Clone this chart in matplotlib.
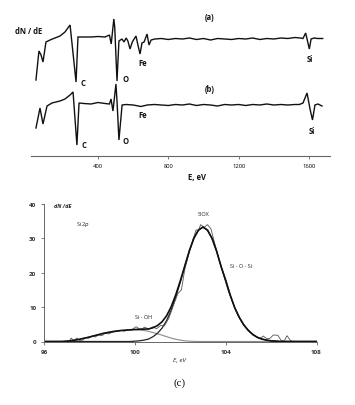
import matplotlib
matplotlib.use('Agg')
import matplotlib.pyplot as plt

# ---- survey spectra (a) and (b): energy, eV / relative dN/dE ----
e_a = [47, 64, 76, 87, 104, 127, 155, 184, 212, 241, 275, 286, 320, 360, 400, 440,
       465, 475, 490, 495, 508, 519, 536, 548, 560, 570, 582, 595, 616, 627, 639, 650,
       662, 679, 690, 702, 724, 760, 800, 840, 880, 920, 960, 1000, 1040, 1080, 1120,
       1160, 1200, 1240, 1280, 1320, 1360, 1400, 1440, 1480, 1520, 1550, 1566, 1581,
       1589, 1602, 1612, 1629, 1650, 1678]
i_a = [-41, -12, -16, -23, -3, -1, 1, 3, 7, 14, -43, 2, 2, 2, 2.5, 2,
       4, -5, 20, 12, -42, -2, 0, -3, 1, -2, -10, -3, 3, -6, -15, -4,
       -3, 5, -6, -1, 0, 0.5, -0.5, 0.5, 0, 1, -0.5, 0.5, -1, 0.5, 0,
       -0.5, 0.5, 0, 1, -0.5, 0.5, 0, 1, 0.5, 1.5, 1, 0.5, 6,
       0, -10, 0, 1, 0.5, 0.5]

e_b = [47, 70, 87, 110, 138, 184, 212, 241, 258, 280, 292, 320, 360, 400, 440, 465,
       474, 485, 502, 508, 519, 537, 560, 600, 644, 680, 720, 760, 800, 840, 880, 920,
       960, 1000, 1040, 1080, 1120, 1160, 1200, 1240, 1280, 1320, 1360, 1400, 1440,
       1480, 1520, 1545, 1566, 1589, 1606, 1620, 1634, 1651, 1674]
i_b = [-23, -3, -19, -1, 2, 4, 6, 10, 13, -40, 2, 1.5, 1, 2.5, 1.5, 1,
       6, -6, 21, 4, -35, 0, 0.5, 0, -1.5, 0, 0.5, 0, -0.5, 0.5, 0, 1,
       -0.5, 0.5, 0, -1, 0.5, 0, 0.5, -0.5, 0.5, 0, 1, 0, 0.5,
       0, 0.5, 0.5, 2, 12, -4, -15, 0, 1, -1]

# ---- Si 2p region (c) ----
e_fit = [96.0, 96.2, 96.4, 96.6, 96.8, 97.0, 97.2, 97.4, 97.6, 97.8, 98.0, 98.2, 98.4,
         98.6, 98.8, 99.0, 99.2, 99.4, 99.6, 99.8, 100.0, 100.2, 100.4, 100.6, 100.8,
         101.0, 101.2, 101.4, 101.6, 101.8, 102.0, 102.2, 102.4, 102.6, 102.8, 103.0,
         103.2, 103.4, 103.6, 103.8, 104.0, 104.2, 104.4, 104.6, 104.8, 105.0, 105.2,
         105.4, 105.6, 105.8, 106.0, 106.2, 106.4, 106.6, 106.8, 107.0, 107.2, 107.4,
         107.6, 107.8, 108.0]
siox = [0, 0, 0, 0, 0, 0, 0, 0, 0, 0, 0, 0, 0,
        0, 0, 0, 0, 0, 0, 0, 0.1, 0.2, 0.4, 0.7, 1.4,
        2.4, 3.9, 6.1, 9.1, 12.9, 17.2, 21.8, 26.3, 30.0, 32.4, 33.3,
        32.4, 30.0, 26.3, 21.8, 17.8, 13.5, 9.8, 7.0, 4.8, 3.2, 2.0,
        1.2, 0.7, 0.4, 0.2, 0.1, 0, 0, 0, 0, 0, 0,
        0, 0, 0]
sioh = [0, 0, 0, 0, 0, 0.1, 0.25, 0.45, 0.7, 1.0, 1.3, 1.65, 2.0,
        2.35, 2.6, 2.85, 3.05, 3.2, 3.3, 3.4, 3.4, 3.35, 3.2, 2.95, 2.6,
        2.25, 1.85, 1.4, 1.0, 0.65, 0.4, 0.2, 0.1, 0.05, 0, 0,
        0, 0, 0, 0, 0, 0, 0, 0, 0, 0, 0,
        0, 0, 0, 0, 0, 0, 0, 0, 0, 0, 0,
        0, 0, 0]
envelope = [0, 0, 0, 0, 0, 0.1, 0.25, 0.45, 0.7, 1.0, 1.3, 1.65, 2.0,
            2.35, 2.6, 2.85, 3.05, 3.2, 3.3, 3.4, 3.5, 3.55, 3.6, 3.65, 4.0,
            4.65, 5.75, 7.5, 10.1, 13.55, 17.6, 22.0, 26.4, 30.05, 32.4, 33.3,
            32.4, 30.0, 26.3, 21.8, 17.8, 13.5, 9.8, 7.0, 4.8, 3.2, 2.0,
            1.2, 0.7, 0.4, 0.2, 0.1, 0, 0, 0, 0, 0, 0,
            0, 0, 0]

e_raw = [97.1, 97.2, 97.3, 97.45, 97.55, 97.7, 97.85, 97.95, 98.1, 98.25, 98.4, 98.55,
         98.7, 98.85, 99.0, 99.2, 99.4, 99.55, 99.7, 99.85, 100.05, 100.25, 100.45,
         100.6, 100.8, 100.95, 101.15, 101.3, 101.5, 101.7, 101.9, 102.05, 102.2, 102.4,
         102.55, 102.7, 102.8, 102.9, 103.05, 103.2, 103.35, 103.5, 103.7, 103.9, 104.1,
         104.3, 104.5, 104.7, 104.9, 105.1, 105.3, 105.5, 105.65, 105.8, 105.95, 106.1,
         106.3, 106.45, 106.6, 106.7, 106.85, 106.95]
i_raw = [0.0, 1.0, 0.2, 1.0, 0.3, 0.4, 1.2, 0.9, 1.6, 1.3, 1.9, 1.7,
         2.4, 2.2, 2.7, 2.9, 3.2, 3.0, 3.5, 3.3, 4.3, 3.5, 4.2,
         3.5, 4.3, 3.7, 4.7, 4.5, 6.8, 10.5, 14.0, 15.0, 21.0, 26.0,
         29.5, 32.5, 32.3, 34.0, 33.2, 34.0, 32.8, 29.0, 24.0, 19.5, 15.0,
         11.5, 8.2, 5.8, 4.0, 2.6, 1.6, 0.8, 1.6, 0.9, 0.9, 1.9,
         1.8, 0.2, 0.4, 1.7, 0.3, 0.0]

top_ticks = [400, 800, 1200, 1600]
c_xticks = [96, 100, 104, 108]
c_yticks = [0, 10, 20, 30, 40]

W, H = 355, 406
fig = plt.figure(figsize=(W / 100, H / 100), dpi=100)
font = ['Open Sans', 'DejaVu Sans']
ink = '#111111'
axis_col = '#666666'

# ---------------- top panel ----------------
ax1 = fig.add_axes([31 / W, (H - 157) / H, 299 / W, 152 / H])
ax1.set_xlim(18.8, 1719.6)
ax1.set_ylim(0, 152)
off_a, off_b = 117, 51
ax1.plot(e_a, [v + off_a for v in i_a], color=ink, lw=1.0, solid_joinstyle='miter')
ax1.plot(e_b, [v + off_b for v in i_b], color=ink, lw=1.0, solid_joinstyle='miter')
for s in ['top', 'right', 'left']:
    ax1.spines[s].set_visible(False)
ax1.spines['bottom'].set_color(axis_col)
ax1.spines['bottom'].set_linewidth(0.8)
ax1.set_yticks([])
ax1.set_xticks(top_ticks)
ax1.set_xticklabels([str(t) for t in top_ticks], fontsize=4.2, family=font)
ax1.tick_params(axis='x', length=2, width=0.6, color=axis_col, pad=3)

kw = dict(fontsize=5.5, family=font, fontweight='bold', color=ink, ha='center', va='center')
ax1.text(1032, 140, '(a)', **kw)
ax1.text(1038, 67, '(b)', **kw)
ax1.text(312, 73, 'C', **kw)
ax1.text(556, 77, 'O', **kw)
ax1.text(653, 93, 'Fe', **kw)
ax1.text(1606, 97, 'Si', **kw)
ax1.text(320, 12, 'C', **kw)
ax1.text(556, 15, 'O', **kw)
ax1.text(656, 41, 'Fe', **kw)
ax1.text(1615, 25, 'Si', **kw)
fig.text(29 / W, 1 - 32 / H, 'dN / dE', **kw)
fig.text(197 / W, 1 - 178 / H, 'E, eV', **kw)

# ---------------- bottom panel ----------------
ax2 = fig.add_axes([44 / W, (H - 342.5) / H, 272.5 / W, 137.5 / H])
ax2.set_xlim(96, 108)
ax2.set_ylim(0, 40)
ax2.plot(e_fit, sioh, color='#8a8a8a', lw=0.8)
ax2.plot(e_fit, siox, color='#222222', lw=0.9)
ax2.plot(e_raw, i_raw, color='#555555', lw=0.6)
ax2.plot(e_fit, envelope, color=ink, lw=1.2)
for s in ['top', 'right']:
    ax2.spines[s].set_visible(False)
for s in ['left', 'bottom']:
    ax2.spines[s].set_color(axis_col)
    ax2.spines[s].set_linewidth(0.7)
ax2.set_xticks(c_xticks)
ax2.set_xticklabels([str(t) for t in c_xticks], fontsize=4.5, family=font, fontweight='bold',
                    color='#333333')
ax2.set_yticks(c_yticks)
ax2.set_yticklabels([str(t) for t in c_yticks], fontsize=4.5, family=font, fontweight='bold',
                    color='#333333')
ax2.tick_params(axis='both', length=2.5, width=0.6, color=axis_col, pad=3)

kc = dict(fontsize=4.0, family=font, color='#222222', ha='center', va='center')
ax2.text(96.81, 39.7, 'dN /dE', style='italic', fontweight='bold', **kc)
ax2.text(97.74, 34.4, 'Si 2$\\it{p}$', **kc)
ax2.text(103.01, 37.1, 'SiOX', **kc)
ax2.text(104.68, 22.2, 'Si - O - Si', **kc)
ax2.text(100.37, 7.4, 'Si - OH', **kc)
fig.text(179 / W, 1 - 361 / H, 'E, eV', style='italic', fontsize=4.5, family=font,
         color='#222222', ha='center', va='center')
fig.text(180 / W, 1 - 383 / H, '(c)', fontsize=8, family=['Liberation Serif', 'DejaVu Serif'],
         color=ink, ha='center', va='center')

fig.savefig('out.png', dpi=100)
